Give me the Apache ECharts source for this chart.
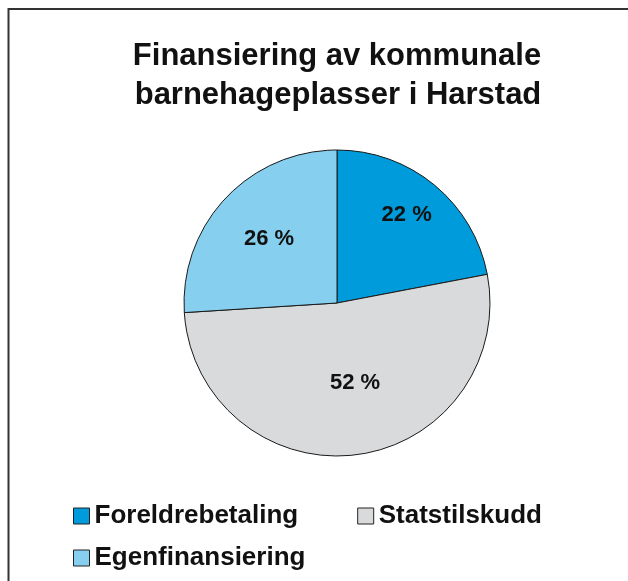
<!DOCTYPE html>
<html>
<head>
<meta charset="utf-8">
<script src="https://cdn.jsdelivr.net/npm/echarts@6/dist/echarts.min.js"></script>
<style>
html,body{margin:0;padding:0;background:#fff;}
#chart{width:628px;height:581px;}
</style>
</head>
<body>
<div id="chart"></div>
<script>
var titleLines = ['Finansiering av kommunale', 'barnehageplasser i Harstad'];
var categories = ['Foreldrebetaling', 'Statstilskudd', 'Egenfinansiering'];
var values = [22, 52, 26];
var colors = ['#009bdb', '#d9dadc', '#86cfee'];

var labelShift = [[19, -27], [8, 1], [-10, -10]];

var chart = echarts.init(document.getElementById('chart'), null, {renderer: 'canvas'});
var font = '"Liberation Sans", Arial, Helvetica, sans-serif';

var option = {
  animation: false,
  backgroundColor: '#ffffff',
  graphic: [
    {type: 'rect', shape: {x: 8.5, y: 9, width: 700, height: 700}, style: {fill: 'none', stroke: '#333', lineWidth: 2}, silent: true, z: 0},
    {type: 'text', x: 337, y: 56, style: {text: titleLines[0], fontFamily: font, fontSize: 31, fontWeight: 'bold', fill: '#111', align: 'center', verticalAlign: 'middle'}},
    {type: 'text', x: 338, y: 95, style: {text: titleLines[1], fontFamily: font, fontSize: 31, fontWeight: 'bold', fill: '#111', align: 'center', verticalAlign: 'middle'}}
  ],
  legend: [
    {
      data: [categories[0], categories[1]],
      left: 73, top: 503, padding: 0,
      orient: 'horizontal',
      itemWidth: 16, itemHeight: 16, itemGap: 59,
      icon: 'rect',
      itemStyle: {borderColor: '#222', borderWidth: 1},
      textStyle: {fontFamily: font, fontSize: 26, fontWeight: 'bold', color: '#111', lineHeight: 17}
    },
    {
      data: [categories[2]],
      left: 73, top: 545, padding: 0,
      orient: 'horizontal',
      itemWidth: 16, itemHeight: 16,
      icon: 'rect',
      itemStyle: {borderColor: '#222', borderWidth: 1},
      textStyle: {fontFamily: font, fontSize: 26, fontWeight: 'bold', color: '#111', lineHeight: 17}
    }
  ],
  series: [{
    type: 'pie',
    center: [337, 303],
    radius: 153,
    startAngle: 90,
    clockwise: true,
    silent: true,
    itemStyle: {borderColor: '#1a1a1a', borderWidth: 1},
    label: {
      show: true,
      position: 'inside',
      fontFamily: font,
      fontSize: 22,
      fontWeight: 'bold',
      color: '#111',
      formatter: function (p) { return p.value + ' %'; }
    },
    labelLayout: function (p) {
      var s = labelShift[p.dataIndex];
      return {dx: s[0], dy: s[1]};
    },
    data: categories.map(function (c, i) {
      return {name: c, value: values[i], itemStyle: {color: colors[i]}};
    })
  }]
};
chart.setOption(option);
</script>
</body>
</html>
